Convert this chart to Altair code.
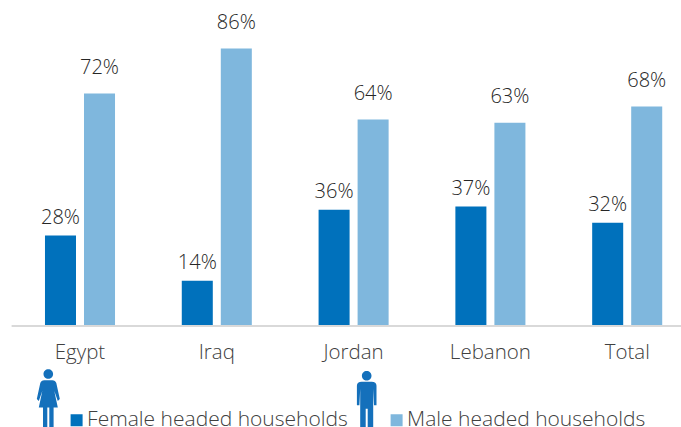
import altair as alt
import pandas as pd

countries = ["Egypt", "Iraq", "Jordan", "Lebanon", "Total"]
female = [28, 14, 36, 37, 32]
male = [72, 86, 64, 63, 68]
series = ["Female headed households", "Male headed households"]
colors = ["#0071BC", "#7FB7DD"]

# Pictograms: outlines in pixels around the centre of the head.
WOMAN = ("M0,-4.8 C2.7,-4.8 4.8,-2.7 4.8,0 C4.8,2.7 2.7,4.8 0,4.8 C-2.7,4.8 -4.8,2.7 -4.8,0 C-4.8,-2.7 -2.7,-4.8 0,-4.8 Z "
         "M-4,6.3 L4,6.3 C6,6.3 7.5,7.5 8,9 L11.5,25 L9.5,27 L6,17 L9.5,33.5 L5.3,33.5 L5.3,60 L1,60 L1,33.5 L-1,33.5 L-1,60 L-5.3,60 L-5.3,33.5 "
         "L-9.5,33.5 L-6,17 L-9.5,27 L-11.5,25 L-8,9 C-7.5,7.5 -6,6.3 -4,6.3 Z")
MAN = ("M0,-4.8 C2.7,-4.8 4.8,-2.7 4.8,0 C4.8,2.7 2.7,4.8 0,4.8 C-2.7,4.8 -4.8,2.7 -4.8,0 C-4.8,-2.7 -2.7,-4.8 0,-4.8 Z "
       "M-5,6 L5,6 C8,6 9.8,7.5 9.8,10 L9.8,29.5 L7.3,29.5 L6.5,13 L6.5,60 L1,60 L1,33 L-1,33 L-1,60 L-6.5,60 L-6.5,13 L-7.3,29.5 L-9.8,29.5 L-9.8,10 "
       "C-9.8,7.5 -8,6 -5,6 Z")

rows = []
for name, f, m in zip(countries, female, male):
    rows.append({"country": name, "series": series[0], "value": f, "label": f"{f}%"})
    rows.append({"country": name, "series": series[1], "value": m, "label": f"{m}%"})
data = pd.DataFrame(rows)

FONT = "Open Sans"
y_scale = alt.Scale(domain=[0, 101], nice=False)
x = alt.X(
    "country:N",
    sort=countries,
    title=None,
    scale=alt.Scale(range=[0, 684], paddingInner=0.488, paddingOuter=0.244),
    axis=alt.Axis(domain=False, ticks=False, labelAngle=0, labelFont=FONT, labelFontSize=20.5,
                  labelFontWeight=300, labelColor="#404040", labelPadding=16.5),
)
x_offset = alt.XOffset("series:N", sort=series, scale=alt.Scale(paddingInner=0.205))
y = alt.Y("value:Q", axis=None, scale=y_scale)

bars = alt.Chart(data).mark_bar().encode(
    x=x,
    xOffset=x_offset,
    y=y,
    color=alt.Color(
        "series:N",
        sort=series,
        scale=alt.Scale(domain=series, range=colors),
        legend=alt.Legend(
            title=None, orient="none", legendX=54.5, legendY=409.5, direction="horizontal",
            symbolType="square", symbolSize=144, symbolStrokeWidth=0, labelFont=FONT,
            labelFontSize=21, labelFontWeight=300, labelColor="#404040", labelOffset=0,
            labelLimit=400, columnPadding=38, padding=0,
        ),
    ),
)


def value_labels(name, lift):
    return alt.Chart(data).transform_filter(alt.datum.series == name).mark_text(
        baseline="middle", dy=lift, font=FONT, fontSize=20, fontWeight=300, color="#262626"
    ).encode(x=x, xOffset=x_offset, y=y, text="label:N")


baseline = alt.Chart(pd.DataFrame({"zero": [0]})).mark_rule(color="#D9D9D9", strokeWidth=2).encode(
    x=alt.value(0), x2=alt.value(670), y=alt.Y("zero:Q", axis=None, scale=y_scale)
)


def icon(path, px, py):
    return alt.Chart(pd.DataFrame({"zero": [0]})).mark_point(
        shape=path, size=4, filled=True, opacity=1, color="#1470BB", strokeWidth=0
    ).encode(x=alt.value(px), y=alt.value(py))


chart = alt.layer(
    bars, baseline, value_labels(series[0], -18), value_labels(series[1], -25.5),
    icon(WOMAN, 36.7, 374), icon(MAN, 355.1, 375.7),
).properties(
    width=669.4,
    height=326,
    autosize=alt.AutoSizeParams(type="none"),
    padding={"left": 11.6, "top": 0, "right": 0, "bottom": 101},
).configure_view(stroke=None)

chart.save("out.html", embed_options={"renderer": "svg", "actions": False})
